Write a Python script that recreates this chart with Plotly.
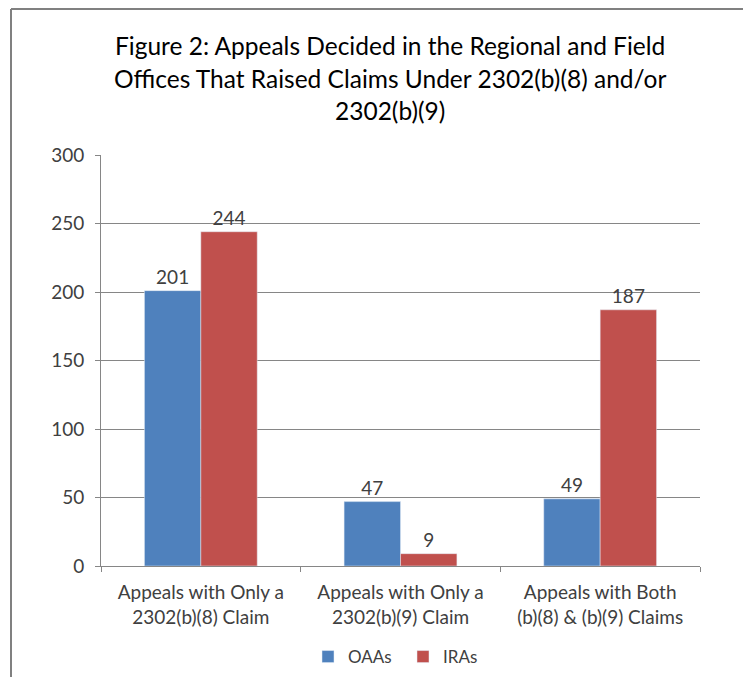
import plotly.graph_objects as go

categories = ["Appeals with Only a<br>2302(b)(8) Claim",
              "Appeals with Only a<br>2302(b)(9) Claim",
              "Appeals with Both<br>(b)(8) & (b)(9) Claims"]
oaas = [201, 47, 49]
iras = [244, 9, 187]
y_ticks = [0, 50, 100, 150, 200, 250, 300]
title_lines = ["Figure 2: Appeals Decided in the Regional and Field",
               "Offices That Raised Claims Under 2302(b)(8) and/or",
               "2302(b)(9)"]

W, H = 751, 677
L, R, T, B = 93, 59, 147, 119
pw, ph = W - L - R, H - T - B

font = "Lato"
tick_font = dict(family=font, size=19, color="#404040")
fig = go.Figure()
fig.add_trace(go.Bar(name="OAAs", x=categories, y=oaas, marker_color="#4F81BD",
                     text=oaas, textposition="outside", cliponaxis=False,
                     textfont=tick_font))
fig.add_trace(go.Bar(name="IRAs", x=categories, y=iras, marker_color="#C0504D",
                     text=iras, textposition="outside", cliponaxis=False,
                     textfont=tick_font))

title_y = [37, 70, 102]
annotations = [dict(text=t, xref="paper", yref="paper", x=(382 - L) / pw, xanchor="center",
                    y=1 + (T - yy) / ph, yanchor="middle", showarrow=False,
                    font=dict(family=font, size=24.5, color="black"))
               for t, yy in zip(title_lines, title_y)]

grey = "#868686"
fig.update_layout(
    width=W, height=H,
    margin=dict(l=L, r=R, t=T, b=B, autoexpand=False),
    paper_bgcolor="white", plot_bgcolor="white",
    barmode="group", bargap=0.435, bargroupgap=0,
    font=dict(family=font, size=19, color="#404040"),
    showlegend=True,
    legend=dict(orientation="h", x=(300 - L) / pw, xanchor="left", y=(558 - 649) / ph, yanchor="middle",
                font=dict(family=font, size=17, color="#404040"), itemwidth=30,
                entrywidth=50, entrywidthmode="pixels"),
    yaxis=dict(range=[0, 300], tickvals=y_ticks, showgrid=True, gridcolor=grey, gridwidth=1,
               showline=True, linecolor=grey, linewidth=1, ticks="outside", ticklen=5,
               tickcolor=grey, zeroline=False, tickfont=tick_font, automargin=False,
               ticklabelstandoff=7),
    xaxis=dict(showline=True, linecolor=grey, linewidth=1, ticks="outside", ticklen=5,
               tickcolor=grey, tickson="boundaries", tickfont=tick_font, automargin=False,
               ticklabelstandoff=9),
    annotations=annotations,
    shapes=[
        dict(type="line", xref="paper", yref="paper", x0=(3 - L) / pw, x1=(W - L + 5) / pw,
             y0=1 + (T - 1) / ph, y1=1 + (T - 1) / ph, line=dict(color="#808080", width=2)),
        dict(type="line", xref="paper", yref="paper", x0=(3 - L) / pw, x1=(3 - L) / pw,
             y0=1 + (T - 1) / ph, y1=-(B + 5) / ph, line=dict(color="#808080", width=2)),
    ],
)
fig.write_html("out.html")
